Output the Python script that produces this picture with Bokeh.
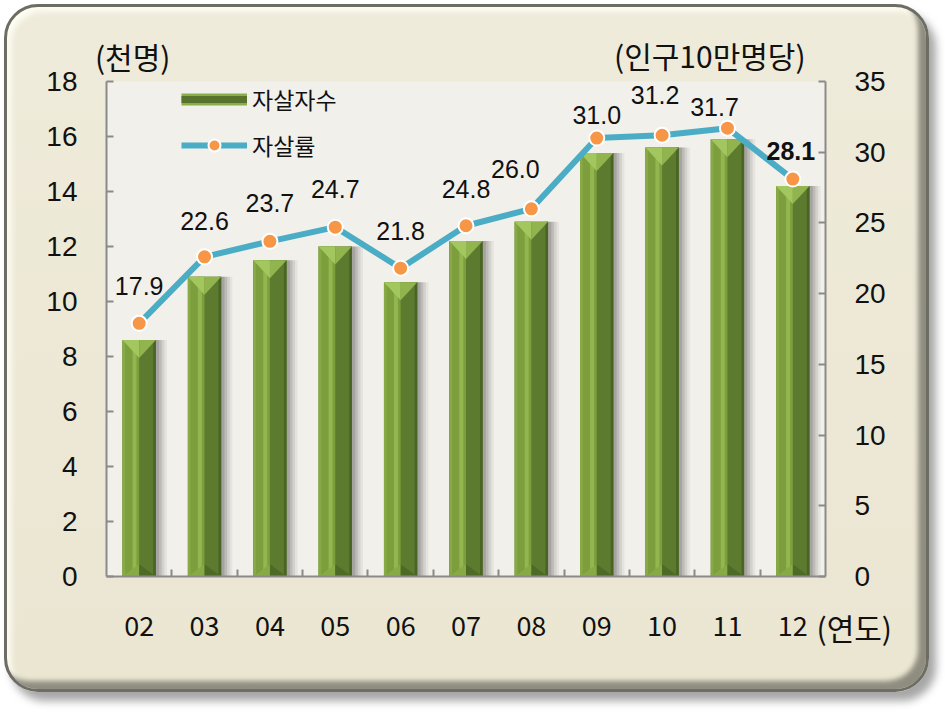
from bokeh.plotting import figure
from bokeh.models import (Range1d, LinearAxis, FixedTicker, ColumnDataSource,
                          Legend, LegendItem, Label, BoxAnnotation)
from bokeh.transform import dodge
from bokeh.core.properties import value
from bokeh.embed import file_html
from bokeh.resources import INLINE

# ---------------- data ----------------
years = ["02", "03", "04", "05", "06", "07", "08", "09", "10", "11", "12"]
suicides_thousand = [8.6, 10.9, 11.5, 12.0, 10.7, 12.2, 12.9, 15.4, 15.6, 15.9, 14.2]
rate_per_100k = [17.9, 22.6, 23.7, 24.7, 21.8, 24.8, 26.0, 31.0, 31.2, 31.7, 28.1]
rate_labels = ["17.9", "22.6", "23.7", "24.7", "21.8", "24.8", "26.0", "31.0", "31.2", "31.7", "28.1"]
left_ticks = [0, 2, 4, 6, 8, 10, 12, 14, 16, 18]
right_ticks = [0, 5, 10, 15, 20, 25, 30, 35]
series_names = ["자살자수", "자살률"]
unit_left = "(천명)"
unit_right = "(인구10만명당)"
unit_x = "(연도)"

# ---------------- styles / layout ----------------
label_dx = [0, 0, 0, 0, 0, 0, -16, 0, -7, -13, -2]
label_dy = [-37, -36, -38, -38, -37, -37, -40, -23, -40, -21, -28]
label_style = ["normal"] * 10 + ["bold"]

NUM_FONT = "Liberation Sans"
KR_FONT = "Noto Sans CJK KR"
AXIS_GRAY = "#8a8a8a"
LINE_COLOR = "#4bacc6"
MARK_COLOR = "#f79646"
W = 0.51            # bar width (category units)
TOP_D = 0.65        # top bevel depth (left-axis units)
BOT_D = 0.45

CW, CH = 919, 682                 # canvas size
ORIGIN = 8                        # canvas origin on the page
PL, PR, PT, PB = 107, 826, 82, 577  # plot-area box (page pixels)
YMAX_L, YMAX_R = 18, 35

n = len(years)
xs = list(range(n))

cl, cr, ct, cb = PL - ORIGIN, PR - ORIGIN, PT - ORIGIN, PB - ORIGIN
ux = (cr - cl) / n
uy = (cb - ct) / YMAX_L
uyr = (cb - ct) / YMAX_R
x_rng = Range1d(-0.5 - cl / ux, n - 0.5 + (CW - cr) / ux)
y_rng = Range1d(-(CH - cb) / uy, YMAX_L + ct / uy)
r_rng = Range1d(-(CH - cb) / uyr, YMAX_R + ct / uyr)

p = figure(frame_width=CW, frame_height=CH, x_range=x_rng, y_range=y_rng,
           x_axis_location=None, y_axis_location=None,
           output_backend="svg", toolbar_location=None,
           min_border_left=0, min_border_right=0, min_border_top=0, min_border_bottom=0,
           border_fill_color=None, border_fill_alpha=0,
           background_fill_color=None, background_fill_alpha=0, outline_line_color=None)
p.title.visible = False
p.grid.visible = False
p.extra_y_ranges = {"rate": r_rng}

p.styles = {
    "margin": "4px 0px 0px 4px",
    "border-radius": "34px",
    "border": "3px solid #6e6d64",
    "background": "linear-gradient(#efebda, #ebe6d2)",
    "box-shadow": "inset -9px -9px 5px -1px #8f8d80, inset 5px 5px 6px -1px #fffef6, 7px 9px 9px rgba(0,0,0,0.35)",
}

# plot-area background
p.add_layout(BoxAnnotation(left=-0.5, right=n - 0.5, bottom=0, top=YMAX_L,
                           fill_color="#f2f0ea", fill_alpha=1, line_color=None,
                           level="underlay"))

# ---- axes ----
def style_axis(ax):
    ax.axis_line_color = AXIS_GRAY
    ax.axis_line_width = 2
    ax.major_tick_line_color = AXIS_GRAY
    ax.major_tick_line_width = 2
    ax.major_tick_in = 7
    ax.major_tick_out = 0
    ax.minor_tick_line_color = None
    ax.major_label_text_font = NUM_FONT
    ax.major_label_text_font_size = "28px"
    ax.major_label_text_color = "#111111"
    ax.major_label_standoff = 29

yl = LinearAxis(ticker=FixedTicker(ticks=left_ticks), fixed_location=-0.5, bounds=(0, YMAX_L))
style_axis(yl)
p.add_layout(yl, "left")

yr = LinearAxis(y_range_name="rate", ticker=FixedTicker(ticks=right_ticks),
                fixed_location=n - 0.5, bounds=(0, YMAX_R))
style_axis(yr)
p.add_layout(yr, "right")

xa = LinearAxis(ticker=FixedTicker(ticks=xs, minor_ticks=[i + 0.5 for i in range(n - 1)]),
                fixed_location=0, bounds=(-0.5, n - 0.5))
xa.major_label_overrides = {i: years[i] for i in xs}
xa.axis_line_color = AXIS_GRAY
xa.axis_line_width = 2
xa.major_tick_line_color = None
xa.minor_tick_line_color = AXIS_GRAY
xa.minor_tick_line_width = 2
xa.minor_tick_in = 7
xa.minor_tick_out = 0
xa.major_label_text_font = KR_FONT
xa.major_label_text_font_size = "27px"
xa.major_label_text_color = "#111111"
xa.major_label_standoff = 33
p.add_layout(xa, "below")

# ---- bars ----
tops = suicides_thousand
src = ColumnDataSource(dict(x=xs, top=tops))

for dx, a in [(0.17, 0.05), (0.13, 0.08), (0.09, 0.10), (0.05, 0.12)]:
    p.vbar(x=dodge("x", dx), top="top", width=W, source=src,
           fill_color="black", fill_alpha=a, line_color=None)

p.vbar(x="x", top="top", width=W, source=src, fill_color="#5c7b2f", line_color=None)
p.vbar(x=dodge("x", -W / 4), top="top", width=W / 2, source=src, fill_color="#7d9e3c", line_color=None)
p.vbar(x=dodge("x", -W * 0.14), top="top", width=W * 0.12, source=src, fill_color="#93b650", line_color=None)
p.vbar(x=dodge("x", -W * 0.46), top="top", width=W * 0.08, source=src, fill_color="#88aa46", line_color=None)
p.vbar(x=dodge("x", W * 0.46), top="top", width=W * 0.08, source=src, fill_color="#4a6425", line_color=None)

tl_x, tl_y, tr_x, tr_y, bl_x, bl_y, br_x, br_y = [], [], [], [], [], [], [], []
for x, t in zip(xs, tops):
    tl_x.append([x - W / 2, x, x]); tl_y.append([t, t, t - TOP_D])
    tr_x.append([x, x + W / 2, x]); tr_y.append([t, t, t - TOP_D])
    bl_x.append([x - W / 2, x, x]); bl_y.append([0, 0, BOT_D])
    br_x.append([x, x + W / 2, x]); br_y.append([0, 0, BOT_D])
p.patches(tl_x, tl_y, fill_color="#a3c75f", line_color=None)
p.patches(tr_x, tr_y, fill_color="#91b44f", line_color=None)
p.patches(bl_x, bl_y, fill_color="#88aa46", line_color=None)
p.patches(br_x, br_y, fill_color="#4f6a27", line_color=None)

# ---- line ----
lsrc = ColumnDataSource(dict(x=xs, y=rate_per_100k, lab=rate_labels,
                             dx=label_dx, dy=label_dy, st=label_style))
line_r = p.line("x", "y", source=lsrc, y_range_name="rate", line_color=LINE_COLOR,
                line_width=6)
mark_r = p.scatter("x", "y", source=lsrc, y_range_name="rate", size=15,
                   fill_color=MARK_COLOR, line_color="white", line_width=2)
p.text("x", "y", text="lab", source=lsrc, y_range_name="rate",
       x_offset="dx", y_offset="dy", text_font_style="st",
       text_font=value(NUM_FONT), text_font_size="25px", text_color="#111111",
       text_align="center", text_baseline="middle")

# ---- legend (bar symbol drawn by thick lines outside the visible range) ----
bar_a = p.line([-90, -80], [-90, -90], line_color="#8aae4a", line_width=12, line_cap="butt")
bar_b = p.line([-90, -80], [-90, -90], line_color="#58742c", line_width=7, line_cap="butt")
legend = Legend(items=[LegendItem(label=series_names[0], renderers=[bar_a, bar_b]),
                       LegendItem(label=series_names[1], renderers=[line_r, mark_r])],
                location=(182 - ORIGIN, CH - (98 - ORIGIN) - 65), padding=0, margin=0, spacing=12,
                glyph_width=66, glyph_height=30, label_height=30, label_standoff=5,
                label_text_font=KR_FONT, label_text_font_size="23px",
                label_text_color="#111111",
                border_line_color=None, background_fill_alpha=0)
p.add_layout(legend)

# ---- unit labels ----
for txt, x, y in [(unit_left, -0.10, 18.91), (unit_right, 8.73, 18.98), (unit_x, 10.94, -1.82)]:
    p.add_layout(Label(x=x, y=y, text=txt, text_font=KR_FONT, text_font_size="30px",
                       text_color="#111111", text_align="center", text_baseline="middle"))

open("out.html", "w").write(file_html(p, INLINE))
